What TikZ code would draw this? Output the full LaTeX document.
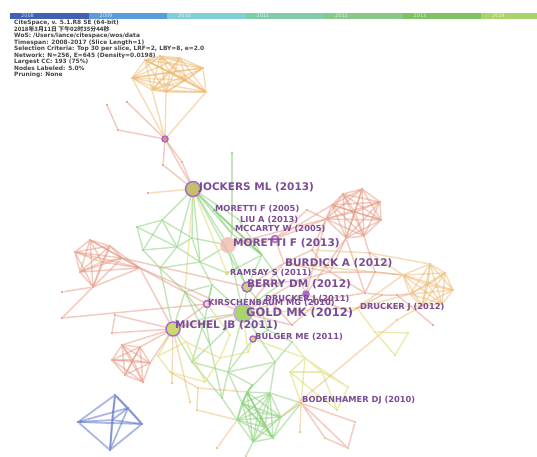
\documentclass[tikz,border=0pt]{standalone}
\usepackage{fontspec}
\setmainfont{DejaVu Sans}
\newfontfamily\cjk{Noto Sans CJK SC}
\usetikzlibrary{backgrounds}

\definecolor{y08}{HTML}{4261B2}
\definecolor{y09}{HTML}{5B9BD8}
\definecolor{y10}{HTML}{7FD0D5}
\definecolor{y11}{HTML}{80CBA9}
\definecolor{y12}{HTML}{88C98B}
\definecolor{y13}{HTML}{7DC263}
\definecolor{y14}{HTML}{A9D36B}
\definecolor{cred}{HTML}{E39077}
\definecolor{corange}{HTML}{EDB566}
\definecolor{cgreen}{HTML}{86CE74}
\definecolor{cyellow}{HTML}{DEDC6E}
\definecolor{cblue}{HTML}{5670CA}
\definecolor{labpurple}{HTML}{7B4C97}
\definecolor{ringpurple}{HTML}{AC68CC}
\definecolor{headgray}{HTML}{444444}

\tikzset{
  nd/.style={circle, inner sep=0pt, minimum size=2.4pt, fill=#1},
  hub/.style={circle, draw=ringpurple, line width=1.5pt, inner sep=0pt},
  redge/.style={draw=cred, line width=1.5pt, opacity=.45},
  oedge/.style={draw=corange, line width=1.5pt, opacity=.45},
  gedge/.style={draw=cgreen, line width=1.4pt, opacity=.5},
  yedge/.style={draw=cyellow, line width=1.4pt, opacity=.55},
  bedge/.style={draw=cblue, line width=1.8pt, opacity=.5},
  biglab/.style={anchor=west, inner sep=0pt, text=labpurple, font=\bfseries\fontsize{10.5}{12}\selectfont},
  smalllab/.style={anchor=west, inner sep=0pt, text=labpurple, font=\bfseries\fontsize{8.3}{10}\selectfont},
  yearbox/.style={anchor=north west, inner sep=0pt, minimum width=78.5pt, minimum height=6pt},
  yearlab/.style={anchor=west, inner sep=0pt, text=white, opacity=.75, font=\fontsize{5}{6}\selectfont},
  header/.style={anchor=north west, inner sep=0pt, align=left, text=headgray, font=\bfseries\fontsize{5.9}{6.5}\selectfont},
}

\begin{document}
\begin{tikzpicture}[x=1pt, y=-1pt]
	\useasboundingbox (0,0) rectangle (537,456);

	% time slices
	\foreach \c/\yr [count=\n from 0] in {y08/2008,y09/2009,y10/2010,y11/2011,y12/2012,y13/2013,y14/2014}{
		\node[yearbox, fill=\c] (bar\yr) at (10+\n*78.5,13) {};
		\node[yearlab] (yr\yr) at (21+\n*78.5,16) {\yr};
	}
	\node[header] (info) at (14,20) {CiteSpace, v. 5.1.R8 SE (64-bit)\\
		{\cjk 2018年3月11日 下午02时35分44秒}\\
		WoS: /Users/lance/citespace/wos/data\\
		Timespan: 2008-2017 (Slice Length=1)\\
		Selection Criteria: Top 30 per slice, LRF=2, LBY=8, e=2.0\\
		Network: N=256, E=645 (Density=0.0198)\\
		Largest CC: 193 (75\%)\\
		Nodes Labeled: 5.0\%\\
		Pruning: None};

	% cluster top
	\foreach \p [count=\n] in {(145,60),(160,56),(180,58),(203,68),(132,78),(152,90),(166,92),(206,92),(186,80),(170,72)}
		\node[nd=corange] (a\n) at \p {};
	% cluster right top
	\foreach \p [count=\n] in {(343,194),(362,189),(380,202),(381,220),(364,236),(346,238),(326,219),(332,205),(355,212)}
		\node[nd=cred] (b\n) at \p {};
	% cluster right
	\foreach \p [count=\n] in {(403,275),(430,264),(445,273),(453,290),(442,304),(422,306),(410,294),(428,285)}
		\node[nd=corange] (c\n) at \p {};
	% cluster left
	\foreach \p [count=\n] in {(75,252),(90,240),(110,246),(122,258),(140,268),(93,287),(80,272),(102,262)}
		\node[nd=cred] (d\n) at \p {};
	% cluster lower left
	\foreach \p [count=\n] in {(112,360),(122,345),(140,347),(150,363),(143,382),(125,375),(133,360)}
		\node[nd=cred] (e\n) at \p {};
	% cluster 2008
	\foreach \p [count=\n] in {(78,422),(115,395),(142,424),(110,450),(128,408),(112,420)}
		\node[nd=cblue] (f\n) at \p {};
	% cluster bottom
	\foreach \p [count=\n] in {(247,392),(270,393),(281,417),(273,438),(253,442),(237,420),(242,403),(258,412),(265,427)}
		\node[nd=cgreen] (g\n) at \p {};
	% middle
	\foreach \p [count=\n] in {(232,153),(232,234),(137,227),(162,220),(177,247),(143,250),(160,268),(200,262),(212,285),(185,292),(192,238),(262,255),(282,283),(210,345),(228,372),(192,362),(275,362),(252,385),(205,318),(268,330),(258,300),(222,398),(292,342)}
		\node[nd=cgreen] (n\n) at \p {};
	\foreach \p [count=\n] in {(330,272),(375,272),(365,293),(382,295),(397,295),(320,300),(300,280),(350,312),(312,250),(292,325),(433,325),(268,298),(307,210),(370,253)}
		\node[nd=cred] (r\n) at \p {};
	\foreach \p [count=\n] in {(186,342),(220,358),(170,372),(205,382),(248,352),(158,356),(230,335)}
		\node[nd=cyellow] (w\n) at \p {};
	\foreach \p [count=\n] in {(305,358),(322,372),(348,387),(337,410),(290,372),(318,395),(375,332),(408,333),(395,355)}
		\node[nd=cyellow] (u\n) at \p {};
	\foreach \p [count=\n] in {(118,130),(107,105),(127,102),(163,165),(182,162),(148,193),(62,292),(62,318),(115,315),(112,333)}
		\node[nd=cred] (p\n) at \p {};
	\foreach \p [count=\n] in {(172,383),(190,402),(198,388),(197,410),(397,320),(355,422),(348,448),(325,438),(300,432),(217,448),(246,456)}
		\node[nd=corange] (o\n) at \p {};

	% cited nodes
	\node[hub, minimum size=6pt, fill=cred] (hubtop) at (165,139) {};
	\node[hub, minimum size=15pt, fill=corange!60!cgreen] (jockers) at (193,189) {};
	\node[nd=cgreen!70!cblue, minimum size=3pt] (mor05) at (214,210) {};
	\node[nd=cgreen] (liu) at (238,219) {};
	\node[nd=cgreen] (mccarty) at (234,229) {};
	\node[circle, inner sep=0pt, minimum size=16pt, fill=cred!70, opacity=.7] (mor13) at (228,245) {};
	\node[hub, minimum size=7pt, fill=cred!40] (mor13s) at (275,239) {};
	\node[nd=corange] (burdick) at (284,263) {};
	\node[nd=cyellow, minimum size=4pt] (ramsay) at (227,273) {};
	\node[hub, minimum size=10pt, fill=cyellow!70!cgreen] (berry) at (247,287) {};
	\node[hub, minimum size=6pt, fill=ringpurple] (drucker11) at (306,294) {};
	\node[hub, minimum size=7pt, fill=cred!40] (kirsch) at (207,304) {};
	\node[hub, minimum size=18pt, draw=ringpurple!60, fill=cgreen!60!cyellow] (gold) at (243,313) {};
	\node[nd=corange, minimum size=3pt] (drucker12) at (357,308) {};
	\node[hub, minimum size=14pt, fill=cyellow!80!cgreen] (michel) at (173,329) {};
	\node[hub, minimum size=6pt, fill=cyellow] (bulger) at (253,339) {};
	\node[nd=corange, minimum size=3pt] (boden) at (301,403) {};

	% labels
	\node[biglab] (ljockers) at (199,188) {JOCKERS ML (2013)};
	\node[smalllab] (lmor05) at (215,209) {MORETTI F (2005)};
	\node[smalllab] (lliu) at (240,220) {LIU A (2013)};
	\node[smalllab] (lmccarty) at (235,229) {MCCARTY W (2005)};
	\node[biglab] (lmor13) at (233,243) {MORETTI F (2013)};
	\node[biglab] (lburdick) at (285,263) {BURDICK A (2012)};
	\node[smalllab] (lramsay) at (230,273) {RAMSAY S (2011)};
	\node[biglab] (lberry) at (247,284) {BERRY DM (2012)};
	\node[smalllab] (ldrucker11) at (265,299) {DRUCKER J (2011)};
	\node[smalllab] (lkirsch) at (208,303) {KIRSCHENBAUM MG (2010)};
	\node[biglab, font=\bfseries\fontsize{11.5}{13}\selectfont] (lgold) at (246,313) {GOLD MK (2012)};
	\node[smalllab] (ldrucker12) at (360,307) {DRUCKER J (2012)};
	\node[biglab] (lmichel) at (175,326) {MICHEL JB (2011)};
	\node[smalllab] (lbulger) at (255,337) {BULGER ME (2011)};
	\node[smalllab] (lboden) at (302,400) {BODENHAMER DJ (2010)};

	\begin{pgfonlayer}{background}
	\fill[white] (0,0) rectangle (537,456);
	% cliques
	\foreach \i in {1,...,9}{\foreach \j in {2,...,10}{\ifnum\j>\i \draw[oedge] (a\i) -- (a\j);\fi}}
	\foreach \i in {1,...,8}{\foreach \j in {2,...,9}{\ifnum\j>\i \draw[redge] (b\i) -- (b\j);\fi}}
	\foreach \i in {1,...,7}{\foreach \j in {2,...,8}{\ifnum\j>\i \draw[oedge] (c\i) -- (c\j);\fi}}
	\foreach \i in {1,...,7}{\foreach \j in {2,...,8}{\ifnum\j>\i \draw[redge] (d\i) -- (d\j);\fi}}
	\foreach \i in {1,...,6}{\foreach \j in {2,...,7}{\ifnum\j>\i \draw[redge] (e\i) -- (e\j);\fi}}
	\foreach \i in {1,...,5}{\foreach \j in {2,...,6}{\ifnum\j>\i \draw[bedge] (f\i) -- (f\j);\fi}}
	\foreach \i in {1,...,8}{\foreach \j in {2,...,9}{\ifnum\j>\i \draw[gedge] (g\i) -- (g\j);\fi}}
	% top branch
	\foreach \k in {5,6,7,8} \draw[oedge] (a\k) -- (hubtop);
	\draw[redge] (hubtop) -- (p1) -- (p2);
	\draw[redge] (hubtop) -- (p3);
	\draw[redge] (hubtop) -- (p4) -- (jockers);
	\draw[redge] (hubtop) -- (p5) -- (jockers);
	\draw[redge] (hubtop) -- (jockers);
	\draw[oedge] (p6) -- (jockers);
	% green
	\foreach \t in {n2,n4,n5,n11,n8,mor05,liu,berry,mor13,n12}
		\draw[gedge] (jockers) -- (\t);
	\draw[gedge] (n1) -- (n2);
	\draw[gedge] (n3) -- (n4) -- (n5) -- (n6) -- (n3) -- (n5);
	\draw[gedge] (n4) -- (n6) -- (n7) -- (n5);
	\draw[gedge] (n7) -- (n8) -- (n9) -- (n10) -- (n7);
	\draw[gedge] (n11) -- (n8);
	\draw[gedge] (n11) -- (n5);
	\draw[gedge] (n4) -- (n11);
	\draw[gedge] (n5) -- (n8);
	\draw[gedge] (mor05) -- (n2);
	\draw[gedge] (mor05) -- (n12) -- (berry);
	\draw[gedge] (n12) -- (n13) -- (n21) -- (berry);
	\draw[gedge] (n13) -- (berry);
	\draw[gedge] (n2) -- (n12);
	\draw[gedge] (n2) -- (mor13) -- (n11);
	\draw[gedge] (mor13) -- (n8);
	\draw[gedge] (mor13) -- (gold);
	\draw[gedge] (mor13) -- (berry) -- (gold);
	\draw[gedge] (ramsay) -- (n12);
	\draw[gedge] (ramsay) -- (n8);
	\draw[gedge] (liu) -- (n12);
	\draw[gedge] (mccarty) -- (n12);
	\draw[gedge] (mor05) -- (mccarty);
	\foreach \t in {n19,n14,n15,n17,n20,n21,n9}
		\draw[gedge] (gold) -- (\t);
	\draw[gedge] (n19) -- (n14) -- (n16) -- (n15) -- (n18) -- (g1);
	\draw[gedge] (n16) -- (n19);
	\draw[gedge] (n9) -- (n19);
	\draw[gedge] (n10) -- (n14);
	\draw[gedge] (n21) -- (n20);
	\draw[gedge] (n17) -- (g2);
	\draw[gedge] (n17) -- (g1);
	\draw[gedge] (n15) -- (g7);
	\draw[gedge] (n20) -- (n23) -- (n17) -- (n15);
	\draw[gedge] (n10) -- (n19);
	\draw[gedge] (kirsch) -- (n9);
	\draw[gedge] (michel) -- (n10);
	\draw[gedge] (michel) -- (n16);
	\draw[gedge] (michel) -- (n19);
	\draw[gedge] (michel) -- (n7);
	\draw[gedge] (bulger) -- (n20);
	\draw[gedge] (bulger) -- (n15);
	\draw[gedge] (n14) -- (n22) -- (g6);
	\draw[gedge] (n22) -- (n16);
	\draw[gedge] (n15) -- (n22);
	\draw[gedge] (n18) -- (g7);
	\draw[gedge] (boden) -- (g2);
	\draw[gedge] (boden) -- (g3);
	\draw[gedge] (boden) -- (g4);
	% yellow
	\draw[yedge] (jockers) -- (n10);
	\draw[yedge] (jockers) -- (ramsay);
	\draw[yedge] (michel) -- (w1) -- (w2) -- (w4) -- (w3) -- (w6) -- (w1) -- (w4);
	\draw[yedge] (w2) -- (w5) -- (bulger);
	\draw[yedge] (w7) -- (w2);
	\draw[yedge] (w7) -- (kirsch);
	\draw[yedge] (gold) -- (w5);
	\draw[yedge] (michel) -- (w6);
	\draw[yedge] (u1) -- (u2) -- (u3) -- (u4) -- (u6) -- (u5) -- (u1) -- (u3);
	\draw[yedge] (u2) -- (u4);
	\draw[yedge] (u5) -- (u2);
	\draw[yedge] (boden) -- (u1);
	\draw[yedge] (boden) -- (u5);
	\draw[yedge] (boden) -- (u6);
	\draw[yedge] (bulger) -- (u1);
	\draw[yedge] (n23) -- (u1);
	\draw[yedge] (u7) -- (u8) -- (u9) -- (u7);
	\draw[yedge] (drucker12) -- (u7);
	\draw[yedge] (gold) -- (drucker12);
	% red
	\draw[redge] (b7) -- (r9) -- (burdick);
	\draw[redge] (b6) -- (r1) -- (burdick);
	\draw[redge] (b8) -- (mor13s) -- (b7);
	\draw[redge] (r1) -- (r2) -- (c1);
	\draw[redge] (r2) -- (r3) -- (r4) -- (r5) -- (c7);
	\draw[redge] (r1) -- (r7) -- (berry);
	\draw[redge] (r7) -- (drucker11) -- (r6) -- (r3);
	\draw[redge] (r6) -- (r8) -- (r4);
	\draw[redge] (r10) -- (r6);
	\draw[redge] (r10) -- (gold);
	\draw[redge] (drucker11) -- (gold);
	\draw[redge] (r1) -- (r3);
	\draw[redge] (r9) -- (r1);
	\draw[redge] (burdick) -- (berry);
	\draw[redge] (burdick) -- (gold);
	\draw[redge] (r5) -- (r11);
	\draw[redge] (b5) -- (r2);
	\draw[redge] (b6) -- (r3);
	\draw[redge] (drucker11) -- (b6);
	\draw[redge] (drucker11) -- (b7);
	\draw[redge] (r12) -- (gold);
	\draw[redge] (r12) -- (r7);
	\draw[redge] (r12) -- (r10);
	\draw[redge] (mor13) -- (mor13s) -- (burdick);
	\draw[redge] (b7) -- (mor13);
	\draw[redge] (r13) -- (b7);
	\draw[redge] (r13) -- (mor13s);
	\draw[oedge] (r14) -- (c1);
	\draw[oedge] (r14) -- (c2);
	\draw[oedge] (r14) -- (r9);
	\draw[oedge] (drucker12) -- (c1);
	\draw[oedge] (drucker12) -- (c7);
	\draw[oedge] (drucker12) -- (c6);
	\draw[oedge] (burdick) -- (c1);
	% left
	\draw[redge] (d5) -- (kirsch);
	\draw[redge] (d4) -- (berry);
	\draw[redge] (d5) -- (gold);
	\draw[redge] (p7) -- (d6) -- (p8) -- (kirsch);
	\draw[redge] (michel) -- (e3);
	\draw[redge] (michel) -- (e4);
	\draw[redge] (michel) -- (e2);
	\draw[redge] (michel) -- (p9) -- (p10) -- (michel);
	\draw[redge] (michel) -- (d5);
	\draw[redge] (michel) -- (kirsch);
	\draw[redge] (michel) -- (gold);
	\draw[oedge] (michel) -- (o1);
	\draw[oedge] (michel) -- (o2);
	% bottom
	\draw[oedge] (w3) -- (o3) -- (g1);
	\draw[oedge] (o3) -- (o4) -- (g6);
	\draw[oedge] (g3) -- (o5) -- (c6);
	\draw[redge] (boden) -- (o6) -- (o7) -- (o8) -- (boden) -- (o7);
	\draw[oedge] (boden) -- (o9);
	\draw[oedge] (g6) -- (o10);
	\draw[gedge] (g5) -- (o11);
	\end{pgfonlayer}
\end{tikzpicture}
\end{document}
